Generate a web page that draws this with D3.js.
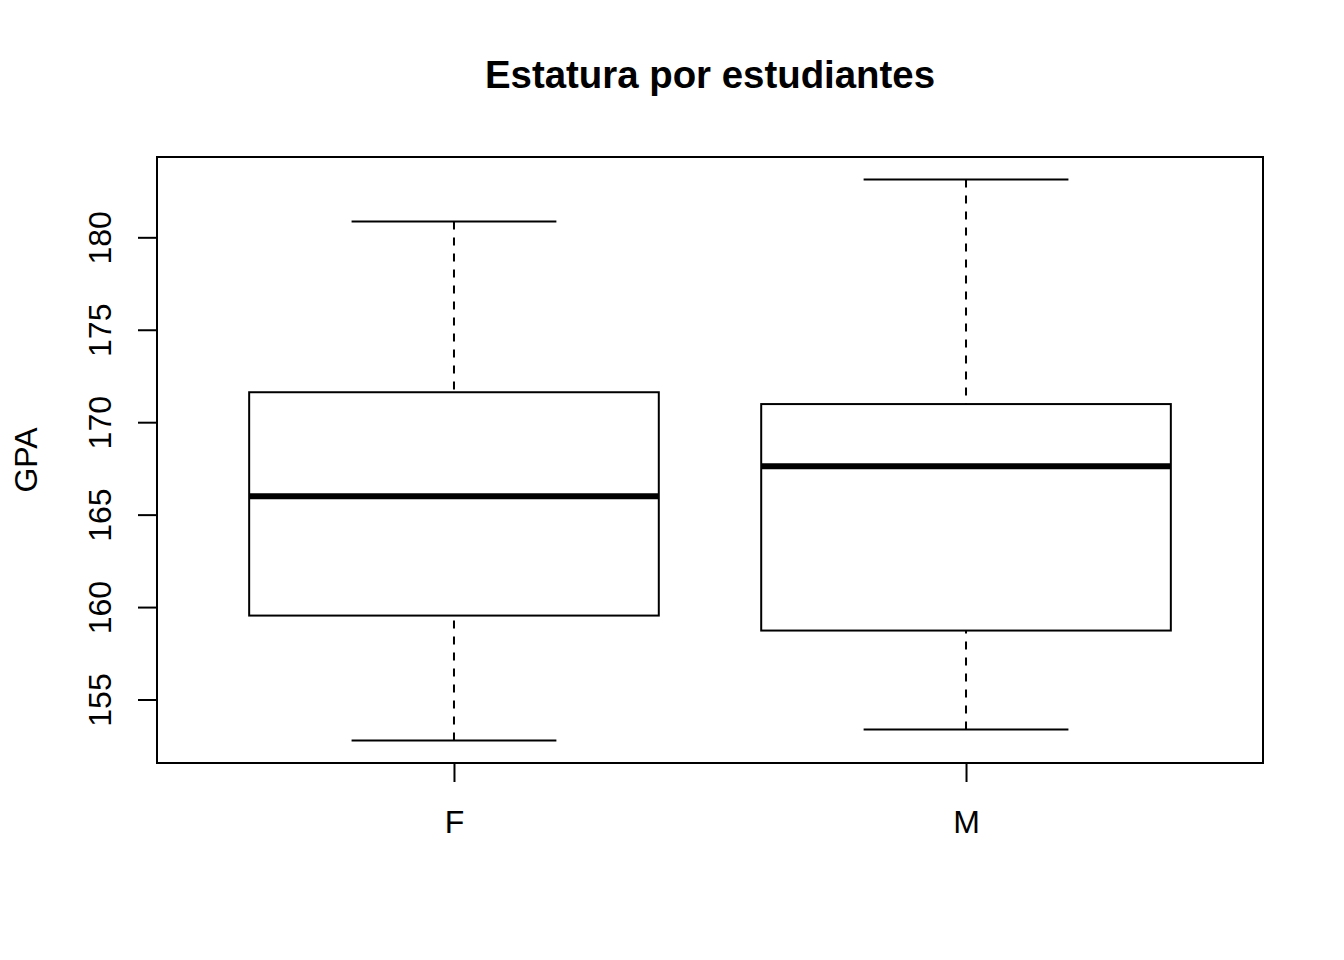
<!DOCTYPE html>
<html>
<head>
<meta charset="utf-8">
<script src="https://cdn.jsdelivr.net/npm/d3@7"></script>
<style>
  html, body { margin: 0; padding: 0; background: #fff; }
  svg text { font-family: "Liberation Sans", Arial, Helvetica, sans-serif; fill: #000; }
</style>
</head>
<body>
<svg id="chart" width="1344" height="960"></svg>
<script>
// ---- data ----
const categories = ["F", "M"];
const whiskerLow  = [152.78, 153.38];
const q1          = [159.54, 158.73];
const median      = [166.00, 167.62];
const q3          = [171.62, 170.98];
const whiskerHigh = [180.85, 183.13];
const yTicks = [155, 160, 165, 170, 175, 180];
const titleText = "Estatura por estudiantes";
const yLabel = "GPA";

// ---- layout ----
const svg = d3.select("#chart");
const plot = { left: 157, right: 1263, top: 157, bottom: 763 };

// R-style 4% extension of ranges
const n = categories.length;
const xlo = 0.5, xhi = n + 0.5;
const xext = (xhi - xlo) * 0.04;
const x = d3.scaleLinear().domain([xlo - xext, xhi + xext]).range([plot.left, plot.right]);

const ymin = d3.min(whiskerLow), ymax = d3.max(whiskerHigh);
const yext = (ymax - ymin) * 0.04;
const y = d3.scaleLinear().domain([ymin - yext, ymax + yext]).range([plot.bottom, plot.top]);

const boxHalf = 0.4, capHalf = 0.2;
const data = categories.map((c, i) => ({
  c, pos: i + 1,
  lo: whiskerLow[i], q1: q1[i], med: median[i], q3: q3[i], hi: whiskerHigh[i]
}));

const g = svg.append("g");

// whiskers (dashed), drawn from whisker end to box
g.selectAll(".wlo").data(data).enter().append("line")
  .attr("x1", d => x(d.pos)).attr("x2", d => x(d.pos))
  .attr("y1", d => y(d.lo)).attr("y2", d => y(d.q1))
  .attr("stroke", "#000").attr("stroke-width", 2).attr("stroke-dasharray", "8,8");
g.selectAll(".whi").data(data).enter().append("line")
  .attr("x1", d => x(d.pos)).attr("x2", d => x(d.pos))
  .attr("y1", d => y(d.hi)).attr("y2", d => y(d.q3))
  .attr("stroke", "#000").attr("stroke-width", 2).attr("stroke-dasharray", "8,8");

// caps
["lo", "hi"].forEach(k => {
  g.selectAll(".cap" + k).data(data).enter().append("line")
    .attr("x1", d => x(d.pos - capHalf)).attr("x2", d => x(d.pos + capHalf))
    .attr("y1", d => y(d[k])).attr("y2", d => y(d[k]))
    .attr("stroke", "#000").attr("stroke-width", 2);
});

// boxes
g.selectAll(".box").data(data).enter().append("rect")
  .attr("x", d => x(d.pos - boxHalf))
  .attr("width", d => x(d.pos + boxHalf) - x(d.pos - boxHalf))
  .attr("y", d => y(d.q3))
  .attr("height", d => y(d.q1) - y(d.q3))
  .attr("fill", "#fff").attr("stroke", "#000").attr("stroke-width", 2);

// medians
g.selectAll(".med").data(data).enter().append("line")
  .attr("x1", d => x(d.pos - boxHalf)).attr("x2", d => x(d.pos + boxHalf))
  .attr("y1", d => y(d.med)).attr("y2", d => y(d.med))
  .attr("stroke", "#000").attr("stroke-width", 6);

// plot frame
svg.append("rect")
  .attr("x", plot.left).attr("y", plot.top)
  .attr("width", plot.right - plot.left).attr("height", plot.bottom - plot.top)
  .attr("fill", "none").attr("stroke", "#000").attr("stroke-width", 2);

// y axis
const yAxis = d3.axisLeft(y).tickValues(yTicks).tickSize(19).tickPadding(0).tickFormat(d3.format("d"));
const ya = svg.append("g").attr("transform", `translate(${plot.left},0)`).call(yAxis);
ya.select(".domain").remove();
ya.selectAll(".tick line").attr("stroke", "#000").attr("stroke-width", 2);
ya.selectAll(".tick text")
  .attr("x", null).attr("dy", null)
  .attr("transform", `translate(${111 - plot.left},0) rotate(-90)`)
  .attr("text-anchor", "middle")
  .attr("font-size", 32)
  .attr("fill", "#000");

// x axis
const xAxis = d3.axisBottom(x).tickValues(data.map(d => d.pos)).tickSize(19).tickPadding(0)
  .tickFormat(v => categories[v - 1]);
const xa = svg.append("g").attr("transform", `translate(0,${plot.bottom})`).call(xAxis);
xa.select(".domain").remove();
xa.selectAll(".tick line").attr("stroke", "#000").attr("stroke-width", 2);
xa.selectAll(".tick text")
  .attr("y", 833 - plot.bottom).attr("dy", null)
  .attr("text-anchor", "middle")
  .attr("font-size", 32)
  .attr("fill", "#000");

// title
svg.append("text")
  .attr("x", (plot.left + plot.right) / 2).attr("y", 88)
  .attr("text-anchor", "middle")
  .attr("font-size", 38.4).attr("font-weight", "bold")
  .text(titleText);

// y label
svg.append("text")
  .attr("transform", `translate(37,${(plot.top + plot.bottom) / 2}) rotate(-90)`)
  .attr("text-anchor", "middle")
  .attr("font-size", 32)
  .text(yLabel);
</script>
</body>
</html>
